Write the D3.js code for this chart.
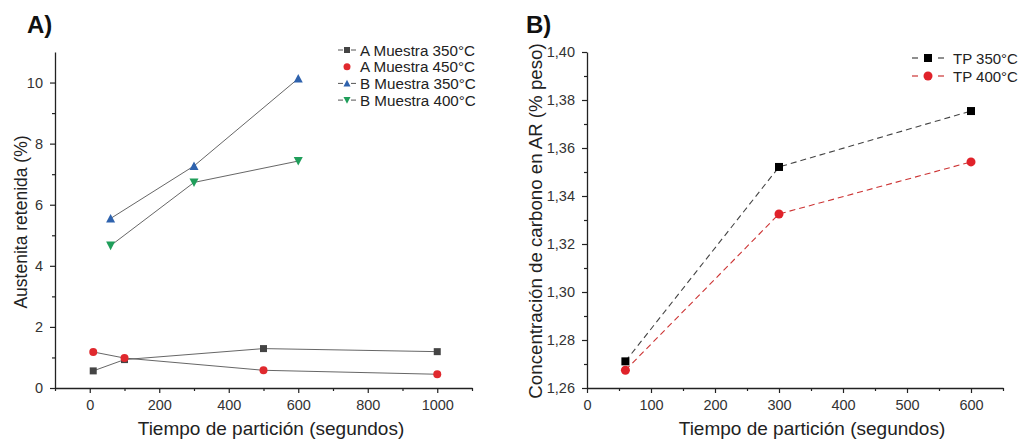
<!DOCTYPE html>
<html><head><meta charset="utf-8">
<script src="https://cdn.jsdelivr.net/npm/d3@7"></script>
<style>
body{margin:0;background:#fff;}
text{font-family:"Liberation Sans",Arial,sans-serif;}
</style></head>
<body>
<svg id="c" width="1023" height="439"></svg>
<script>
// ---- Chart A data ----
const aSeriesNames = ["A Muestra 350°C","A Muestra 450°C","B Muestra 350°C","B Muestra 400°C"];
const aX350 = [10,100,500,1000];
const aY350 = [0.56,0.93,1.29,1.19];
const aX450 = [10,100,500,1000];
const aY450 = [1.18,0.98,0.58,0.45];
const bX350 = [60,300,600];
const bY350 = [5.55,7.27,10.13];
const bX400 = [60,300,600];
const bY400 = [4.66,6.73,7.43];
const aXTicks = [0,200,400,600,800,1000];
const aYTicks = [0,2,4,6,8,10];

// ---- Chart B data ----
const bSeriesNames = ["TP 350°C","TP 400°C"];
const tpX = [60,300,600];
const tp350 = [1.2711,1.3521,1.3754];
const tp400 = [1.2674,1.3325,1.3542];
const bXTicks = [0,100,200,300,400,500,600];
const bYTicks = [1.26,1.28,1.30,1.32,1.34,1.36,1.38,1.40];

const svg = d3.select("#c");
const axisColor = "#222";

function styleAxis(g){
  g.selectAll("path").attr("stroke",axisColor).attr("stroke-width",1.3);
  g.selectAll("line").attr("stroke",axisColor).attr("stroke-width",1.2);
  g.selectAll("text").attr("fill","#333").style("font-size","14.5px").style("font-family","'Liberation Sans',Arial,sans-serif");
}

function symbol(g, type, x, y, color, size){
  if(type==="square"){
    g.append("rect").attr("x",x-size/2).attr("y",y-size/2).attr("width",size).attr("height",size).attr("fill",color);
  } else if(type==="circle"){
    g.append("circle").attr("cx",x).attr("cy",y).attr("r",size/2).attr("fill",color);
  } else if(type==="up"){
    const h=size*0.9;
    g.append("path").attr("d",`M${x},${y-h/2-0.5}L${x+size/2},${y+h/2}L${x-size/2},${y+h/2}Z`).attr("fill",color);
  } else if(type==="down"){
    const h=size*0.9;
    g.append("path").attr("d",`M${x},${y+h/2+0.5}L${x+size/2},${y-h/2}L${x-size/2},${y-h/2}Z`).attr("fill",color);
  }
}

// ================= Chart A =================
{
  const x = d3.scaleLinear().domain([-100,1100]).range([55,472]);
  const y = d3.scaleLinear().domain([0,11]).range([388,52]);
  const g = svg.append("g");

  const gxm = g.append("g").attr("transform","translate(0,388)")
    .call(d3.axisBottom(x).tickValues(d3.range(-100,1101,100).filter(v=>v%200!==0)).tickSize(3).tickFormat(""));
  gxm.select("path").remove(); styleAxis(gxm);
  const gym = g.append("g").attr("transform","translate(55,0)")
    .call(d3.axisLeft(y).tickValues(d3.range(1,11,2)).tickSize(3).tickFormat(""));
  gym.select("path").remove(); styleAxis(gym);

  const gx = g.append("g").attr("transform","translate(0,388)")
    .call(d3.axisBottom(x).tickValues(aXTicks).tickSize(5).tickSizeOuter(0).tickPadding(7).tickFormat(d3.format("d")));
  styleAxis(gx);
  const gy = g.append("g").attr("transform","translate(55,0)")
    .call(d3.axisLeft(y).tickValues(aYTicks).tickSize(5).tickSizeOuter(0).tickPadding(7).tickFormat(d3.format("d")));
  styleAxis(gy);

  const series = [
    {xs:aX350, ys:aY350, type:"square", color:"#444", size:7},
    {xs:aX450, ys:aY450, type:"circle", color:"#e0292e", size:8},
    {xs:bX350, ys:bY350, type:"up", color:"#2e62ad", size:9},
    {xs:bX400, ys:bY400, type:"down", color:"#1f9e5a", size:9}
  ];
  const line = d3.line().x(d=>x(d[0])).y(d=>y(d[1]));
  series.forEach(s=>{
    const pts = s.xs.map((v,i)=>[v,s.ys[i]]);
    g.append("path").attr("d",line(pts)).attr("fill","none").attr("stroke","#555").attr("stroke-width",0.9);
  });
  series.forEach(s=>{
    s.xs.forEach((v,i)=>symbol(g,s.type,x(v),y(s.ys[i]),s.color,s.size));
  });

  const lg = g.append("g");
  aSeriesNames.forEach((n,i)=>{
    const ly = 50 + i*16.7;
    const s = series[i];
    if(i!==1){
      lg.append("line").attr("x1",338).attr("x2",343).attr("y1",ly).attr("y2",ly).attr("stroke","#555").attr("stroke-width",1);
      lg.append("line").attr("x1",351).attr("x2",356).attr("y1",ly).attr("y2",ly).attr("stroke","#555").attr("stroke-width",1);
    }
    symbol(lg,s.type,347,ly,s.color,s.type==="square"?6:7);
    lg.append("text").attr("x",360).attr("y",ly+5.5).text(n).attr("fill","#222").style("font-size","15.2px");
  });

  g.append("text").attr("x",27).attr("y",33).text("A)").style("font-weight","bold").style("font-size","24px").attr("fill","#111");
  g.append("text").attr("transform","translate(27,222) rotate(-90)").attr("text-anchor","middle")
    .text("Austenita retenida (%)").style("font-size","17.5px").attr("fill","#222");
  g.append("text").attr("x",271).attr("y",435).attr("text-anchor","middle")
    .text("Tiempo de partición (segundos)").style("font-size","19px").attr("fill","#222");
}

// ================= Chart B =================
{
  const x = d3.scaleLinear().domain([0,650]).range([587,1003]);
  const y = d3.scaleLinear().domain([1.26,1.40]).range([388,52]);
  const g = svg.append("g");
  const fmt = v => d3.format(".2f")(v).replace(".",",");

  const gxm = g.append("g").attr("transform","translate(0,388)")
    .call(d3.axisBottom(x).tickValues(d3.range(50,651,100)).tickSize(3).tickFormat(""));
  gxm.select("path").remove(); styleAxis(gxm);
  const gym = g.append("g").attr("transform","translate(587,0)")
    .call(d3.axisLeft(y).tickValues(d3.range(0,7).map(i=>1.27+i*0.02)).tickSize(3).tickFormat(""));
  gym.select("path").remove(); styleAxis(gym);

  const gx = g.append("g").attr("transform","translate(0,388)")
    .call(d3.axisBottom(x).tickValues(bXTicks).tickSize(5).tickSizeOuter(0).tickPadding(7).tickFormat(d3.format("d")));
  styleAxis(gx);
  const gy = g.append("g").attr("transform","translate(587,0)")
    .call(d3.axisLeft(y).tickValues(bYTicks).tickSize(5).tickSizeOuter(0).tickPadding(7).tickFormat(fmt));
  styleAxis(gy);

  const series = [
    {ys:tp350, type:"square", color:"#000", line:"#444", size:8},
    {ys:tp400, type:"circle", color:"#e0222a", line:"#c33", size:9}
  ];
  const line = d3.line().x(d=>x(d[0])).y(d=>y(d[1]));
  series.forEach(s=>{
    const pts = tpX.map((v,i)=>[v,s.ys[i]]);
    g.append("path").attr("d",line(pts)).attr("fill","none").attr("stroke",s.line)
      .attr("stroke-width",1.1).attr("stroke-dasharray","6,4");
  });
  series.forEach(s=>{
    tpX.forEach((v,i)=>symbol(g,s.type,x(v),y(s.ys[i]),s.color,s.size));
  });

  const lg = g.append("g");
  bSeriesNames.forEach((n,i)=>{
    const ly = 58 + i*18;
    const s = series[i];
    lg.append("line").attr("x1",912).attr("x2",918).attr("y1",ly).attr("y2",ly).attr("stroke",s.line).attr("stroke-width",1.2);
    lg.append("line").attr("x1",938).attr("x2",944).attr("y1",ly).attr("y2",ly).attr("stroke",s.line).attr("stroke-width",1.2);
    symbol(lg,s.type,928,ly,s.color,s.size);
    lg.append("text").attr("x",953).attr("y",ly+5.5).text(n).attr("fill","#222").style("font-size","15px");
  });

  g.append("text").attr("x",526).attr("y",33).text("B)").style("font-weight","bold").style("font-size","24px").attr("fill","#111");
  g.append("text").attr("transform","translate(542,221) rotate(-90)").attr("text-anchor","middle")
    .text("Concentración de carbono en AR (% peso)").style("font-size","18.7px").attr("fill","#222");
  g.append("text").attr("x",812).attr("y",435).attr("text-anchor","middle")
    .text("Tiempo de partición (segundos)").style("font-size","19px").attr("fill","#222");
}
</script>
</body></html>
